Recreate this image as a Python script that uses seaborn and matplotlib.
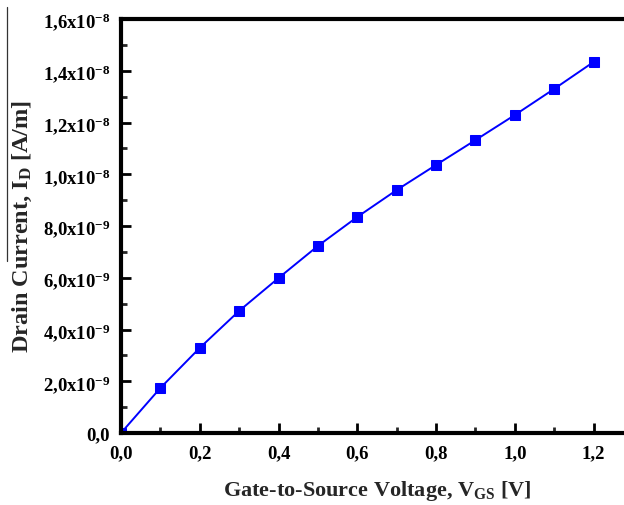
import matplotlib
matplotlib.use("Agg")
import matplotlib.pyplot as plt
from matplotlib.lines import Line2D
from matplotlib.ticker import MultipleLocator
import seaborn as sns
import pandas as pd

# Transfer characteristic: drain current vs gate-to-source voltage
vgs = [0.0, 0.1, 0.2, 0.3, 0.4, 0.5, 0.6, 0.7, 0.8, 0.9, 1.0, 1.1, 1.2]
drain_current = [0.0, 1.74e-9, 3.29e-9, 4.72e-9, 5.99e-9, 7.23e-9, 8.35e-9,
                 9.39e-9, 10.36e-9, 11.32e-9, 12.29e-9, 13.30e-9, 14.34e-9]

x_ticks = [0.0, 0.2, 0.4, 0.6, 0.8, 1.0, 1.2]
x_tick_labels = ["0,0", "0,2", "0,4", "0,6", "0,8", "1,0", "1,2"]
y_ticks = [0.0, 2e-9, 4e-9, 6e-9, 8e-9, 1e-8, 1.2e-8, 1.4e-8, 1.6e-8]
y_tick_labels = ["0,0", "2,0x10$^{-9}$", "4,0x10$^{-9}$", "6,0x10$^{-9}$",
                 "8,0x10$^{-9}$", "1,0x10$^{-8}$", "1,2x10$^{-8}$",
                 "1,4x10$^{-8}$", "1,6x10$^{-8}$"]

df = pd.DataFrame({"VGS": vgs, "ID": drain_current})

sns.set_theme(style="ticks")
plt.rcParams["font.family"] = ["Liberation Serif", "DejaVu Serif"]
plt.rcParams["font.weight"] = "bold"
plt.rcParams["mathtext.fontset"] = "custom"
plt.rcParams["mathtext.rm"] = "Liberation Serif:bold"
plt.rcParams["mathtext.it"] = "Liberation Serif:bold"
plt.rcParams["mathtext.bf"] = "Liberation Serif:bold"
plt.rcParams["mathtext.default"] = "rm"

fig = plt.figure(figsize=(6.24, 5.06), dpi=100)
ax = fig.add_axes([121 / 624, 72 / 506, 512 / 624, 414 / 506])

sns.lineplot(data=df, x="VGS", y="ID", ax=ax, color="#0000FF",
             linewidth=1.4, marker="s", markersize=7,
             markeredgecolor="#0000FF", markerfacecolor="#0000FF")

ax.set_xlim(0, 1.3)
ax.set_ylim(0, 1.6e-8)
ax.set_xticks(x_ticks)
ax.set_xticklabels(x_tick_labels)
ax.set_yticks(y_ticks)
ax.set_yticklabels(y_tick_labels)
ax.xaxis.set_minor_locator(MultipleLocator(0.1))
ax.yaxis.set_minor_locator(MultipleLocator(1e-9))

for s in ax.spines.values():
    s.set_linewidth(3)
    s.set_color("black")

ax.tick_params(which="major", direction="in", length=7, width=2,
               labelsize=13.5, pad=8, colors="black")
ax.tick_params(which="minor", direction="in", length=4, width=2)
for lab in ax.get_xticklabels() + ax.get_yticklabels():
    lab.set_fontweight("bold")

ax.set_xlabel("Gate-to-Source Voltage, V$_{GS}$ [V]", fontsize=16,
              fontweight="bold", labelpad=12)
ax.set_ylabel("Drain Current, I$_{D}$ [A/m]", fontsize=17.5,
              fontweight="bold", labelpad=6)

# thin rule beside the vertical axis title
fig.add_artist(Line2D([7 / 624, 7 / 624], [1 - 8 / 506, 1 - 262 / 506],
                      color="#333333", linewidth=0.9))

fig.savefig("out.png", dpi=100)
